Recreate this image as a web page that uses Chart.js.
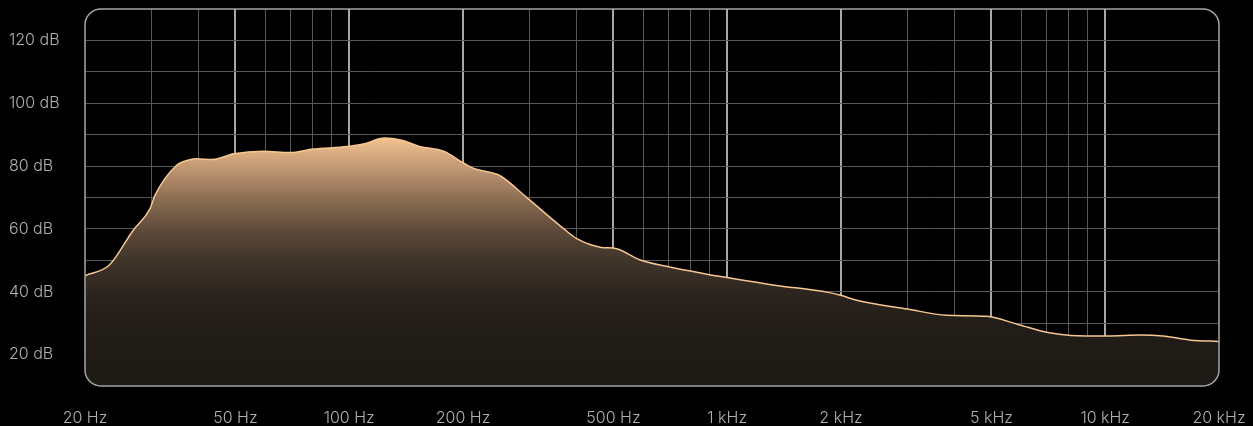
<!DOCTYPE html>
<html>
<head>
<meta charset="utf-8">
<script src="https://cdn.jsdelivr.net/npm/chart.js@4"></script>
<style>
  html, body { margin: 0; padding: 0; background: #000; }
  #wrap { width: 1253px; height: 426px; }
</style>
</head>
<body>
<div id="wrap"><canvas id="respChart"></canvas></div>
<script>
const freqs = [20, 23.2, 26.8, 29.7, 30.6, 34.9, 37.9, 39.3, 43.5, 49.5, 59.3, 69.8, 80.3, 98.6, 108.9, 124, 136.8, 154.2, 177.7, 201, 212.7, 250, 294, 369, 400, 461, 510, 586, 690, 884, 1000, 1333, 1850, 2005, 2200, 3000, 3805, 4850, 5880, 7050, 8110, 10100, 12420, 14200, 16840, 20000];
const levels = [45.1, 48.5, 59.5, 66.4, 70.6, 80.2, 82.0, 82.3, 82.1, 83.9, 84.7, 84.3, 85.4, 86.2, 87.0, 88.9, 88.3, 86.2, 84.7, 80.9, 79.3, 77.0, 70.1, 60.1, 56.9, 54.2, 53.7, 50.2, 48.1, 45.6, 44.5, 42.1, 39.8, 38.8, 37.3, 34.5, 32.5, 32.2, 29.6, 27.0, 26.1, 25.9, 26.2, 25.9, 24.6, 24.2];

const freqTicks = [20, 50, 100, 200, 500, 1000, 2000, 5000, 10000, 20000];
const freqLabels = ["20 Hz", "50 Hz", "100 Hz", "200 Hz", "500 Hz", "1 kHz", "2 kHz", "5 kHz", "10 kHz", "20 kHz"];
const minorFreqs = [30, 40, 60, 70, 80, 90, 300, 400, 600, 700, 800, 900, 3000, 4000, 6000, 7000, 8000, 9000];
const dbTicks = [20, 40, 60, 80, 100, 120];

const points = freqs.map((f, i) => ({ x: f, y: levels[i] }));

const gridGray = "#575757";
const majorGray = "#a9a9a9";
const labelGray = "#b0b0b0";
const labelFont = { family: "Inter", size: 16, weight: 300 };

// rounded frame: mask corners then stroke border
const framePlugin = {
    id: "frame",
    afterDraw(chart) {
        const { ctx, chartArea: a } = chart;
        const r = 16;
        ctx.save();
        ctx.fillStyle = "#000";
        ctx.beginPath();
        ctx.rect(a.left - 2, a.top - 2, a.right - a.left + 4, a.bottom - a.top + 4);
        ctx.roundRect(a.left, a.top, a.right - a.left, a.bottom - a.top, r);
        ctx.fill("evenodd");
        ctx.strokeStyle = "#a5a5a5";
        ctx.lineWidth = 1.5;
        ctx.beginPath();
        ctx.roundRect(a.left, a.top, a.right - a.left, a.bottom - a.top, r);
        ctx.stroke();
        ctx.restore();
    }
};

const ctx = document.getElementById("respChart").getContext("2d");
new Chart(ctx, {
    type: "line",
    data: {
        datasets: [{
            data: points,
            borderColor: "#f7c691",
            borderWidth: 1.5,
            pointRadius: 0,
            cubicInterpolationMode: "monotone",
            fill: "start",
            backgroundColor: (c) => {
                const a = c.chart.chartArea;
                if (!a) return "#3a2e24";
                const g = c.chart.ctx.createLinearGradient(0, 135, 0, a.bottom);
                g.addColorStop(0, "#f8c692");
                g.addColorStop(0.12, "#c49b75");
                g.addColorStop(0.25, "#8e6f54");
                g.addColorStop(0.38, "#5e4a3a");
                g.addColorStop(0.5, "#40342a");
                g.addColorStop(0.63, "#2c241e");
                g.addColorStop(0.76, "#221d18");
                g.addColorStop(1, "#1d1915");
                return g;
            }
        }]
    },
    options: {
        responsive: true,
        maintainAspectRatio: false,
        animation: false,
        layout: { padding: { left: 9, top: 9, right: 34, bottom: 0 } },
        plugins: {
            legend: { display: false },
            tooltip: { enabled: false }
        },
        scales: {
            x: {
                type: "logarithmic",
                min: 20,
                max: 20000,
                z: 1,
                afterBuildTicks: (scale) => {
                    scale.ticks = freqTicks.concat(minorFreqs).sort((p, q) => p - q).map(v => ({ value: v }));
                },
                afterFit: (scale) => {
                    scale.height = 40;
                    scale.paddingLeft = 0;
                    scale.paddingRight = 0;
                },
                border: { display: false },
                grid: {
                    drawTicks: false,
                    color: (c) => {
                        const v = c.tick.value;
                        if (v === 20 || v === 20000) return "rgba(0,0,0,0)";
                        return freqTicks.includes(v) ? majorGray : gridGray;
                    },
                    lineWidth: (c) => freqTicks.includes(c.tick.value) ? 2 : 1
                },
                ticks: {
                    autoSkip: false,
                    maxRotation: 0,
                    padding: 23,
                    color: labelGray,
                    font: labelFont,
                    callback: (v) => {
                        const i = freqTicks.indexOf(v);
                        return i >= 0 ? freqLabels[i] : "";
                    }
                }
            },
            y: {
                min: 10,
                max: 130,
                z: 1,
                afterFit: (scale) => {
                    scale.width = 76;
                    scale.paddingTop = 0;
                    scale.paddingBottom = 0;
                },
                border: { display: false },
                grid: {
                    drawTicks: false,
                    color: (c) => (c.tick.value === 10 || c.tick.value === 130) ? "rgba(0,0,0,0)" : gridGray,
                    lineWidth: 1
                },
                ticks: {
                    stepSize: 10,
                    crossAlign: "far",
                    color: labelGray,
                    font: labelFont,
                    callback: (v) => dbTicks.includes(v) ? v + " dB" : ""
                }
            }
        }
    },
    plugins: [framePlugin]
});
</script>
</body>
</html>
